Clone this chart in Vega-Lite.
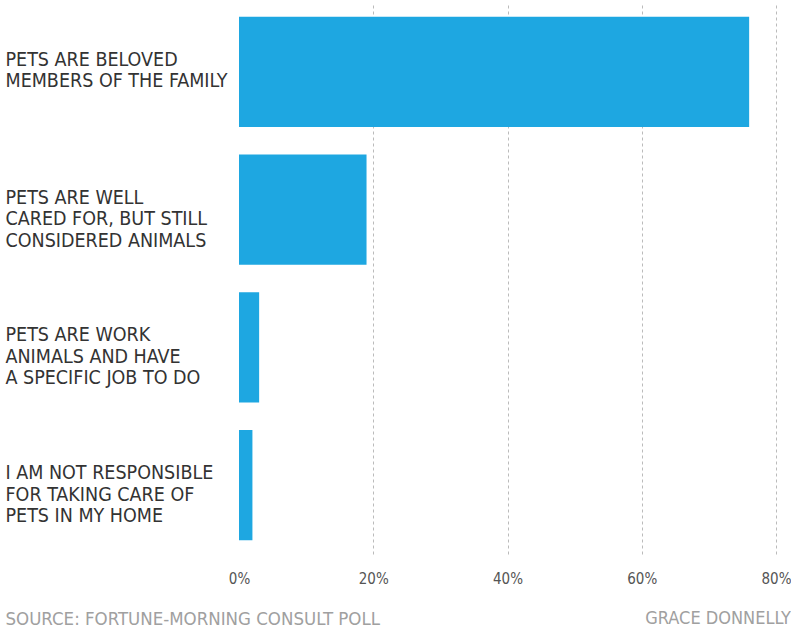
{
  "$schema": "https://vega.github.io/schema/vega-lite/v6.json",
  "width": 537,
  "height": 551,
  "padding": {"left": 5, "top": 3, "right": 0, "bottom": 0},
  "background": "white",
  "data": {
    "values": [
      {"view": "PETS ARE BELOVED|MEMBERS OF THE FAMILY", "share": 0.76},
      {"view": "PETS ARE WELL|CARED FOR, BUT STILL|CONSIDERED ANIMALS", "share": 0.19},
      {"view": "PETS ARE WORK|ANIMALS AND HAVE|A SPECIFIC JOB TO DO", "share": 0.03},
      {"view": "I AM NOT RESPONSIBLE|FOR TAKING CARE OF|PETS IN MY HOME", "share": 0.02}
    ]
  },
  "title": {
    "text": "GRACE DONNELLY",
    "orient": "bottom",
    "anchor": "end",
    "frame": "bounds",
    "offset": -18,
    "font": "DejaVu Sans Condensed",
    "fontSize": 18,
    "fontWeight": "normal",
    "color": "#a0a0a0"
  },
  "config": {"view": {"stroke": null}},
  "mark": {"type": "bar", "color": "#1ea7e1"},
  "encoding": {
    "y": {
      "field": "view",
      "type": "nominal",
      "sort": null,
      "scale": {"paddingInner": 0.2, "paddingOuter": 0.1},
      "axis": {
        "title": null,
        "domain": false,
        "ticks": false,
        "grid": false,
        "labelAlign": "left",
        "labelBaseline": "middle",
        "labelPadding": 234,
        "labelOffset": -12,
        "labelFont": "DejaVu Sans Condensed",
        "labelFontSize": 19.5,
        "labelLineHeight": 21.5,
        "labelColor": "#333333",
        "labelLimit": 0,
        "labelExpr": "split(datum.value, '|')"
      }
    },
    "x": {
      "field": "share",
      "type": "quantitative",
      "scale": {"domain": [0, 0.8]},
      "axis": {
        "title": "SOURCE: FORTUNE-MORNING CONSULT POLL",
        "titleAnchor": "start",
        "titleAlign": "left",
        "titleX": -234,
        "titleFont": "DejaVu Sans Condensed",
        "titleFontSize": 18.5,
        "titleFontWeight": "normal",
        "titleColor": "#a0a0a0",
        "titlePadding": 23,
        "values": [0, 0.2, 0.4, 0.6, 0.8],
        "format": ".0%",
        "domain": false,
        "ticks": false,
        "labelPadding": 17,
        "labelFont": "DejaVu Sans Condensed",
        "labelFontSize": 15,
        "labelColor": "#555555",
        "labelFlush": false,
        "grid": true,
        "gridColor": "#bbbbbb",
        "gridDash": [3, 3],
        "gridOpacity": {"condition": {"test": "datum.value === 0", "value": 0}, "value": 1}
      }
    }
  }
}
